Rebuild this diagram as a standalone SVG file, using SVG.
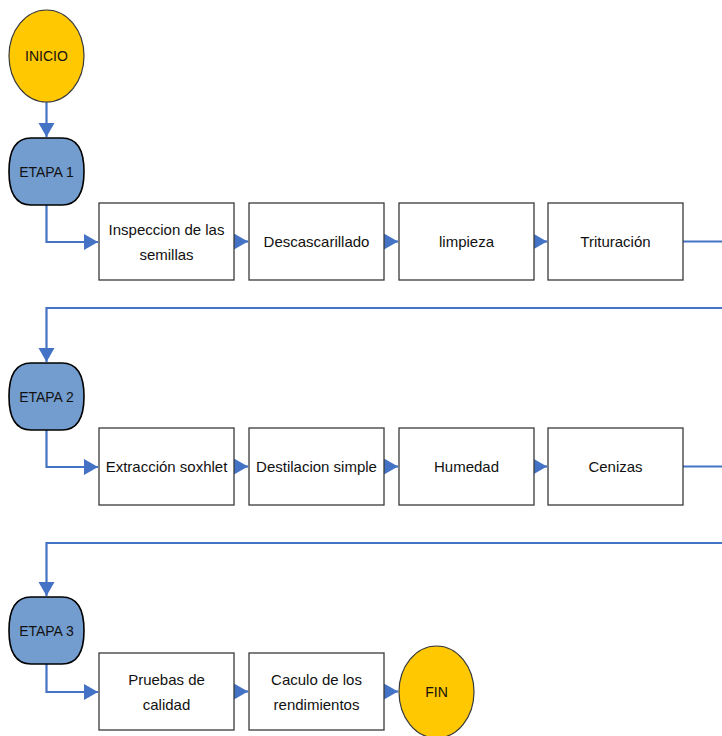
<svg xmlns="http://www.w3.org/2000/svg" width="722" height="736" viewBox="0 0 722 736">
<defs>
<style>
.box{fill:#fff;stroke:#3a3a3a;stroke-width:1.3}
.term{fill:#ffc800;stroke:#3a3a3a;stroke-width:1.2}
.etapa{fill:#739dcf;stroke:#000;stroke-width:1.6}
.t{font-family:"Liberation Sans",Arial,sans-serif;font-size:15px;fill:#111;text-anchor:middle}
.te{font-family:"Liberation Sans",Arial,sans-serif;font-size:14px;fill:#111;text-anchor:middle}
.c{fill:none;stroke:#4472c4;stroke-width:2.2}
</style>
<marker id="ah" markerUnits="userSpaceOnUse" markerWidth="15" markerHeight="17" refX="14" refY="8" orient="auto">
<path d="M0,0 L14,8 L0,16 Z" fill="#4472c4"/>
</marker>
</defs>
<g id="connectors">
<path class="c" d="M46.5,102 V137" marker-end="url(#ah)"/>
<path class="c" d="M46.5,205 V242 H98" marker-end="url(#ah)"/>
<path class="c" d="M234,241.5 H248" marker-end="url(#ah)"/>
<path class="c" d="M384,241.5 H398" marker-end="url(#ah)"/>
<path class="c" d="M534,241.5 H547" marker-end="url(#ah)"/>
<path class="c" d="M683,241.5 H724"/>
<path class="c" d="M724,308 H46.5 V362" marker-end="url(#ah)"/>
<path class="c" d="M46.5,430 V467 H98" marker-end="url(#ah)"/>
<path class="c" d="M234,466.5 H248" marker-end="url(#ah)"/>
<path class="c" d="M384,466.5 H398" marker-end="url(#ah)"/>
<path class="c" d="M534,466.5 H547" marker-end="url(#ah)"/>
<path class="c" d="M683,466.5 H724"/>
<path class="c" d="M724,543 H46.5 V596" marker-end="url(#ah)"/>
<path class="c" d="M46.5,664 V692 H98" marker-end="url(#ah)"/>
<path class="c" d="M234,691.5 H248" marker-end="url(#ah)"/>
<path class="c" d="M384,691.5 H398" marker-end="url(#ah)"/>
</g>
<g id="inicio">
<ellipse class="term" cx="46.5" cy="56" rx="37.5" ry="46"/>
<text class="te" x="46.5" y="61">INICIO</text>
</g>
<g id="etapa1">
<path class="etapa" d="M31,138 H62 C80,138 84,155 84,171.5 C84,188 80,205 62,205 H31 C13,205 9,188 9,171.5 C9,155 13,138 31,138 Z"/>
<text class="te" x="46.5" y="176.5">ETAPA 1</text>
</g>
<g id="inspeccion">
<rect class="box" x="99" y="203" width="135" height="77"/>
<text class="t" x="166.5" y="235">Inspeccion de las</text>
<text class="t" x="166.5" y="260">semillas</text>
</g>
<g id="descascarillado">
<rect class="box" x="249" y="203" width="135" height="77"/>
<text class="t" x="316.5" y="247">Descascarillado</text>
</g>
<g id="limpieza">
<rect class="box" x="399" y="203" width="135" height="77"/>
<text class="t" x="466.5" y="247">limpieza</text>
</g>
<g id="trituracion">
<rect class="box" x="548" y="203" width="135" height="77"/>
<text class="t" x="615.5" y="247">Trituración</text>
</g>
<g id="etapa2">
<path class="etapa" d="M31,363 H62 C80,363 84,380 84,396.5 C84,413 80,430 62,430 H31 C13,430 9,413 9,396.5 C9,380 13,363 31,363 Z"/>
<text class="te" x="46.5" y="401.5">ETAPA 2</text>
</g>
<g id="extraccion">
<rect class="box" x="99" y="428" width="135" height="77"/>
<text class="t" x="166.5" y="472">Extracción soxhlet</text>
</g>
<g id="destilacion">
<rect class="box" x="249" y="428" width="135" height="77"/>
<text class="t" x="316.5" y="472">Destilacion simple</text>
</g>
<g id="humedad">
<rect class="box" x="399" y="428" width="135" height="77"/>
<text class="t" x="466.5" y="472">Humedad</text>
</g>
<g id="cenizas">
<rect class="box" x="548" y="428" width="135" height="77"/>
<text class="t" x="615.5" y="472">Cenizas</text>
</g>
<g id="etapa3">
<path class="etapa" d="M31,597 H62 C80,597 84,614 84,630.5 C84,647 80,664 62,664 H31 C13,664 9,647 9,630.5 C9,614 13,597 31,597 Z"/>
<text class="te" x="46.5" y="635.5">ETAPA 3</text>
</g>
<g id="pruebas">
<rect class="box" x="99" y="653" width="135" height="77"/>
<text class="t" x="166.5" y="685">Pruebas de</text>
<text class="t" x="166.5" y="710">calidad</text>
</g>
<g id="caculo">
<rect class="box" x="249" y="653" width="135" height="77"/>
<text class="t" x="316.5" y="685">Caculo de los</text>
<text class="t" x="316.5" y="710">rendimientos</text>
</g>
<g id="fin">
<ellipse class="term" cx="436.5" cy="692" rx="37.5" ry="46"/>
<text class="te" x="436.5" y="697">FIN</text>
</g>
</svg>
